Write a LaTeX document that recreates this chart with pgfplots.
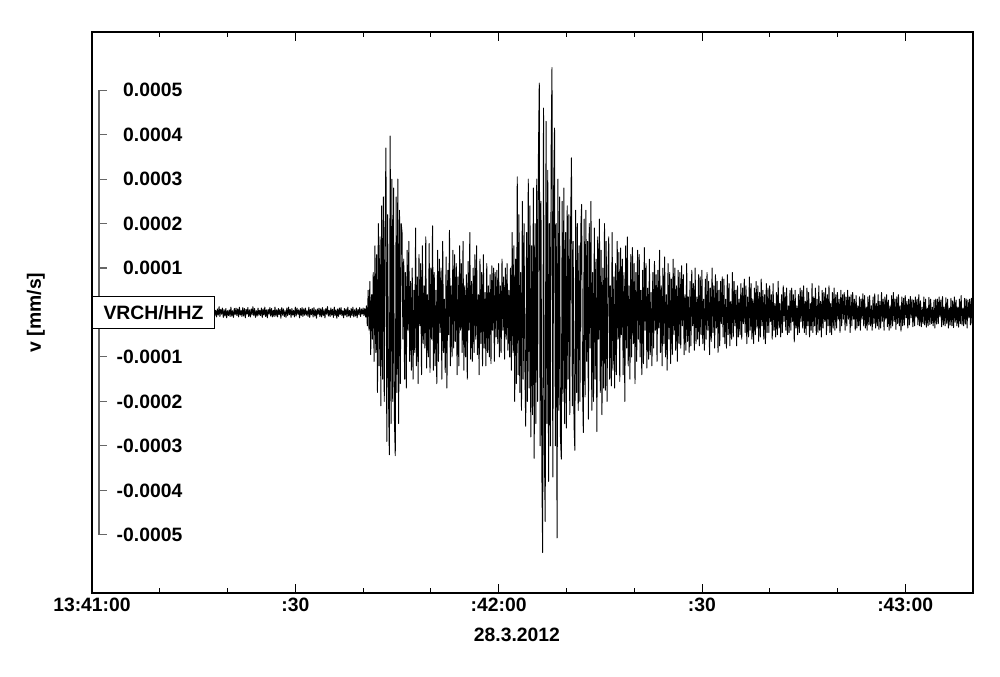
\documentclass[border=0pt]{standalone}
\usepackage{pgfplots}
\pgfplotsset{compat=1.18}
\usepackage{pgfplotstable}
\usepackage{fontspec}
\setmainfont{Liberation Sans}
\usetikzlibrary{calc}
% seismogram samples in 1e-6 mm/s; dt = 0.125 s from 13:41:00
\pgfplotstableread[row sep=\\, header=false]{
6\\ -9\\ 12\\ -4\\ 8\\ -11\\ 3\\ -7\\ 10\\ -6\\ 9\\ -12\\ 5\\ -8\\ 11\\ -3\\ 7\\ -10\\
9\\ -5\\ 4\\ -12\\ 10\\ -7\\ 6\\ -9\\ 13\\ -4\\ 8\\ -6\\ 11\\ -10\\ 5\\ -8\\ 12\\ -6\\
4\\ -11\\ 8\\ -7\\ 12\\ -5\\ 9\\ -3\\ 7\\ -12\\ 10\\ -8\\ 6\\ -9\\ 11\\ -4\\ 5\\ -10\\
12\\ -6\\ 8\\ -10\\ 5\\ -13\\ 9\\ -7\\ 4\\ -9\\ 11\\ -5\\ 8\\ -12\\ 6\\ -8\\ 10\\ -4\\
7\\ -10\\ 11\\ -6\\ 9\\ -4\\ 12\\ -8\\ 6\\ -11\\ 5\\ -9\\ 10\\ -7\\ 13\\ -5\\ 8\\ -9\\
5\\ -8\\ 10\\ -12\\ 7\\ -6\\ 9\\ -10\\ 4\\ -7\\ 12\\ -9\\ 6\\ -5\\ 11\\ -8\\ 9\\ -11\\
10\\ -4\\ 6\\ -9\\ 12\\ -7\\ 8\\ -11\\ 5\\ -10\\ 9\\ -6\\ 13\\ -8\\ 4\\ -12\\ 7\\ -5\\
8\\ -12\\ 9\\ -5\\ 11\\ -8\\ 6\\ -4\\ 10\\ -9\\ 7\\ -13\\ 5\\ -7\\ 12\\ -6\\ 9\\ -10\\
11\\ -7\\ 5\\ -10\\ 8\\ -6\\ 13\\ -9\\ 7\\ -4\\ 10\\ -11\\ 6\\ -8\\ 9\\ -12\\ 4\\ -7\\
6\\ -9\\ 12\\ -8\\ 4\\ -11\\ 9\\ -5\\ 10\\ -7\\ 8\\ -10\\ 12\\ -6\\ 5\\ -9\\ 11\\ -8\\
9\\ -12\\ 7\\ -4\\ 11\\ -9\\ 6\\ -10\\ 8\\ -5\\ 13\\ -7\\ 9\\ -11\\ 4\\ -8\\ 10\\ -6\\
5\\ -7\\ 10\\ -11\\ 8\\ -6\\ 12\\ -9\\ 6\\ -12\\ 7\\ -4\\ 11\\ -8\\ 9\\ -10\\ 5\\ -9\\
12\\ -8\\ 6\\ -10\\ 9\\ -5\\ 7\\ -13\\ 11\\ -6\\ 8\\ -9\\ 4\\ -11\\ 10\\ -7\\ 12\\ -5\\
7\\ -11\\ 9\\ -6\\ 5\\ -10\\ 12\\ -8\\ 10\\ -4\\ 6\\ -12\\ 9\\ -7\\ 11\\ -9\\ 8\\ -6\\
10\\ -6\\ 4\\ -9\\ 12\\ -11\\ 7\\ -5\\ 9\\ -10\\ 11\\ -8\\ 6\\ -13\\ 8\\ -4\\ 10\\ -9\\
8\\ -10\\ 11\\ -7\\ 6\\ -12\\ 9\\ -4\\ 13\\ -8\\ 5\\ -9\\ 10\\ -6\\ 7\\ -11\\ 12\\ -7\\
6\\ -13\\ 8\\ -9\\ 10\\ -5\\ 11\\ -7\\ 4\\ -12\\ 9\\ -6\\ 8\\ -10\\ 12\\ -8\\ 5\\ -11\\
9\\ -7\\ 12\\ -10\\ 6\\ -8\\ 10\\ -12\\ 7\\ -5\\ 11\\ -9\\ 8\\ -4\\ 10\\ -7\\ 9\\ -10\\
15\\ -30\\ 50\\ -40\\ 70\\ -95\\ 40\\ -60\\ 90\\ -110\\
150\\ -90\\ 130\\ -180\\ 200\\ -120\\ 170\\ -210\\ 240\\ -150\\ 260\\ -200\\ 180\\ 370\\ -290\\ 220\\ -180\\ -320\\ 397\\ -250\\
300\\ -200\\ 280\\ -240\\ -322\\ 260\\ -180\\ 300\\ -250\\ 230\\ -160\\ 200\\
180\\ -60\\ 120\\ -150\\ 90\\ -170\\ 140\\ -40\\ 160\\ -110\\ 70\\ -130\\ 100\\ -150\\ 50\\ -90\\
190\\ -120\\ 80\\ -160\\ 130\\ -30\\ 110\\ -140\\ 150\\ -70\\ 60\\ -80\\ 170\\ -125\\ 40\\ -100\\
155\\ -135\\ 100\\ -60\\ 195\\ -130\\ 90\\ -120\\ 50\\ -160\\ 140\\ -110\\ 120\\ -45\\ 100\\ -150\\
160\\ -90\\ 30\\ -135\\ 125\\ -170\\ 95\\ -50\\ 185\\ -120\\ 60\\ -100\\ 140\\ -80\\ 130\\ -65\\
110\\ -140\\ 80\\ -120\\ 150\\ -40\\ 110\\ -90\\ 160\\ -130\\ 60\\ -100\\ 85\\ -150\\ 115\\ -40\\
180\\ -105\\ 70\\ -110\\ 100\\ -90\\ 130\\ -60\\ 150\\ -95\\ 40\\ -140\\ 120\\ -70\\ 90\\ -120\\
130\\ -80\\ 45\\ -120\\ 110\\ -90\\ 60\\ -100\\ 85\\ -115\\ 105\\ -40\\ 100\\ -110\\ 90\\ -55\\
95\\ -70\\ 110\\ -100\\ 60\\ -90\\ 120\\ -40\\ 80\\ -105\\ 100\\ -60\\ 110\\ -85\\ 50\\ -100\\
100\\ -130\\ 180\\ -90\\ 150\\ -200\\ 120\\ -160\\ 305\\ -140\\
220\\ -180\\ 90\\ -220\\ 250\\ -150\\ 200\\ -120\\ -256\\ 180\\
-200\\ 300\\ -170\\ 240\\ -280\\ 150\\ -230\\ 280\\ -328\\ 200\\
-250\\ 300\\ -200\\ 350\\ 516\\ -300\\ 250\\ -350\\ -540\\ 460\\
-300\\ -470\\ 430\\ -250\\ 320\\ -380\\ 200\\ -300\\ 360\\ 551\\
-370\\ 280\\ 415\\ -300\\ 200\\ -507\\ 300\\ -220\\ 260\\ -280\\
-330\\ 250\\ -200\\ 280\\ -250\\ 180\\ -260\\ 240\\ -150\\ 220\\
-230\\ 200\\ 348\\ -210\\ 160\\ -250\\ -310\\ 230\\ -180\\ 200\\
-220\\ 150\\ -200\\ 190\\ 243\\ -160\\ -270\\ 210\\
-190\\ 230\\ -110\\ 160\\ -240\\ 200\\ -80\\ 250\\ -220\\ 90\\ -200\\ 190\\ -150\\ 120\\ -268\\ 170\\ -60\\ 210\\ -180\\ 140\\ -230\\ 100\\ -170\\ 200\\
-175\\ 160\\ -200\\ 70\\ 170\\ -150\\ 60\\ -165\\ 180\\ -130\\ 80\\ -170\\ 110\\ -140\\ 160\\ -60\\ 135\\ -155\\ 145\\ -50\\
120\\ -140\\ 90\\ -200\\ 150\\ -80\\ 170\\ -120\\ 60\\ -150\\ 130\\ -100\\ 146\\ -70\\ 110\\ -160\\ 90\\ -110\\ 140\\ -60\\
130\\ -100\\ 50\\ -140\\ 95\\ -115\\ 146\\ -40\\ 110\\ -125\\ 55\\ -105\\ 120\\ -95\\ 45\\ -120\\ 90\\ -80\\ 115\\ -40\\ 85\\ -110\\ 95\\ -35\\
140\\ -90\\ 60\\ -120\\ 100\\ -70\\ 125\\ -100\\ 40\\ -130\\ 110\\ -60\\ 90\\ -115\\ 75\\ -95\\ 120\\ -50\\ 100\\ -85\\ 60\\ -110\\ 95\\ -70\\
90\\ -80\\ 105\\ -30\\ 85\\ -95\\ 40\\ -85\\ 110\\ -65\\ 35\\ -90\\ 70\\ -75\\ 95\\ -30\\ 65\\ -85\\ 100\\ -70\\ 35\\ -60\\ 85\\ -75\\
80\\ -50\\ 95\\ -70\\ 30\\ -85\\ 75\\ -60\\ 90\\ -40\\ 70\\ -95\\ 55\\ -65\\ 100\\ -45\\ 60\\ -80\\ 85\\ -35\\ 70\\ -90\\ 50\\ -75\\
70\\ -25\\ 80\\ -55\\ 75\\ -70\\ 30\\ -80\\ 85\\ -50\\ 65\\ -75\\ 25\\ -60\\ 90\\ -55\\ 70\\ -30\\ 50\\ -75\\ 60\\ -55\\ 30\\ -50\\ 65\\ -60\\ 55\\ -25\\
75\\ -45\\ 60\\ -70\\ 35\\ -55\\ 80\\ -40\\ 65\\ -60\\ 30\\ -70\\ 55\\ -50\\ 70\\ -35\\ 60\\ -65\\ 45\\ -55\\ 75\\ -30\\ 50\\ -60\\ 40\\ -70\\ 65\\ -45\\
55\\ -45\\ 60\\ -20\\ 40\\ -60\\ 65\\ -40\\ 20\\ -55\\ 45\\ -50\\ 70\\ -35\\ 20\\ -55\\ 40\\ -45\\ 60\\ -20\\
45\\ -40\\ 55\\ -50\\ 15\\ -45\\ 50\\ -40\\ 55\\ -20\\ 40\\ -66\\ 50\\ -35\\ 15\\ -50\\ 40\\ -45\\ 55\\ -20\\
50\\ -35\\ 60\\ -45\\ 25\\ -50\\ 55\\ -30\\ 45\\ -55\\ 20\\ -40\\ 65\\ -45\\ 35\\ -30\\ 55\\ -50\\ 30\\ -45\\
60\\ -40\\ 25\\ -55\\ 50\\ -35\\ 45\\ -20\\ 55\\ -50\\ 40\\ -30\\ 60\\ -45\\ 20\\ -50\\ 45\\ -35\\ 55\\ -40\\
40\\ -35\\ 45\\ -15\\ 30\\ -45\\ 50\\ -30\\ 40\\ -15\\ 45\\ -40\\ 35\\ -30\\ 50\\ -15\\ 35\\ -45\\ 40\\ -30\\
45\\ -15\\ 30\\ -40\\ 38\\ -35\\ 15\\ -30\\ 35\\ -40\\ 30\\ -15\\ 42\\ -30\\ 38\\ -35\\ 12\\ -40\\ 35\\ -28\\
38\\ -30\\ 15\\ -40\\ 35\\ -25\\ 42\\ -35\\ 20\\ -30\\ 40\\ -38\\ 25\\ -35\\ 45\\ -20\\ 30\\ -40\\ 35\\ -15\\
40\\ -32\\ 28\\ -40\\ 15\\ -35\\ 38\\ -30\\ 45\\ -20\\ 30\\ -38\\ 35\\ -25\\ 40\\ -30\\ 15\\ -42\\ 35\\ -30\\
32\\ -28\\ 38\\ -12\\ 25\\ -35\\ 30\\ -28\\ 36\\ -12\\ 30\\ -32\\ 28\\ -30\\ 35\\ -10\\ 30\\ -28\\ 40\\ -30\\
26\\ -32\\ 12\\ -25\\ 35\\ -28\\ 30\\ -33\\ 10\\ -30\\ 34\\ -27\\ 30\\ -25\\ 12\\ -30\\ 28\\ -35\\ 30\\ -26\\
30\\ -25\\ 35\\ -10\\ 28\\ -32\\ 36\\ -28\\ 12\\ -30\\ 33\\ -25\\ 30\\ -35\\ 10\\ -28\\ 32\\ -30\\ 26\\ -34\\
35\\ -22\\ 28\\ -30\\ 12\\ -33\\ 30\\ -25\\ 38\\ -28\\ 10\\ -30\\ 32\\ -26\\ 30\\ -35\\ 28\\ -12\\ 30\\ -28\\
32\\ -26\\ 28\\
}\seis

\newcommand{\lblfont}{\bfseries\fontsize{14.5}{17}\selectfont}

\begin{document}
\begin{tikzpicture}
\begin{axis}[name=main, scale only axis, width=660.75pt, height=420.75pt,
  xmin=0, xmax=130, ymin=-631, ymax=631,
  xtick={0,30,60,90,120},
  xticklabels={13:41:00,:30,:42:00,:30,:43:00},
  minor xtick={10,20,40,50,70,80,100,110},
  ytick=\empty,
  tick align=inside, major tick length=7pt, minor tick length=4pt,
  tick style={black, line width=0.6pt},
  axis line style={line width=0.8pt},
  ticklabel style={font=\lblfont},
  xlabel={28.3.2012}, ylabel={v [mm/s]},
  every axis x label/.style={at={(rel axis cs:0.4824,-0.0749)}, anchor=center, font=\lblfont},
  every axis y label/.style={at={(rel axis cs:-0.0636,0.5)}, rotate=90, anchor=center, font=\lblfont}]
\addplot[black, line width=0.7pt, line join=round]
  table[x expr=\coordindex*0.125, y index=0] {\seis};
\end{axis}
\begin{axis}[at={($(main.west)+(5.25pt,0)$)}, anchor=west,
  scale only axis, width=10pt, height=333.5pt,
  xmin=0, xmax=1, ymin=-500, ymax=500,
  axis x line=none, axis y line=left,
  y axis line style={-, black!60, line width=0.8pt},
  ytick={-500,-400,-300,-200,-100,0,100,200,300,400,500},
  yticklabels={-0.0005,-0.0004,-0.0003,-0.0002,-0.0001,{},0.0001,0.0002,0.0003,0.0004,0.0005},
  tick align=inside, major tick length=6pt,
  ytick style={black!60, line width=0.8pt},
  yticklabel style={font=\lblfont, anchor=east, xshift=66pt}]
\addplot[draw=none] coordinates {(0,0)};
\end{axis}
\node[draw=black, line width=0.8pt, fill=white, anchor=west, minimum width=91.5pt,
  minimum height=24pt, inner sep=0pt, font=\lblfont] at (main.west) {VRCH/HHZ};
\pgfresetboundingbox
\path (main.south west) ++(-69pt,-63pt) rectangle ++(750pt,507.75pt);
\end{tikzpicture}
\end{document}
